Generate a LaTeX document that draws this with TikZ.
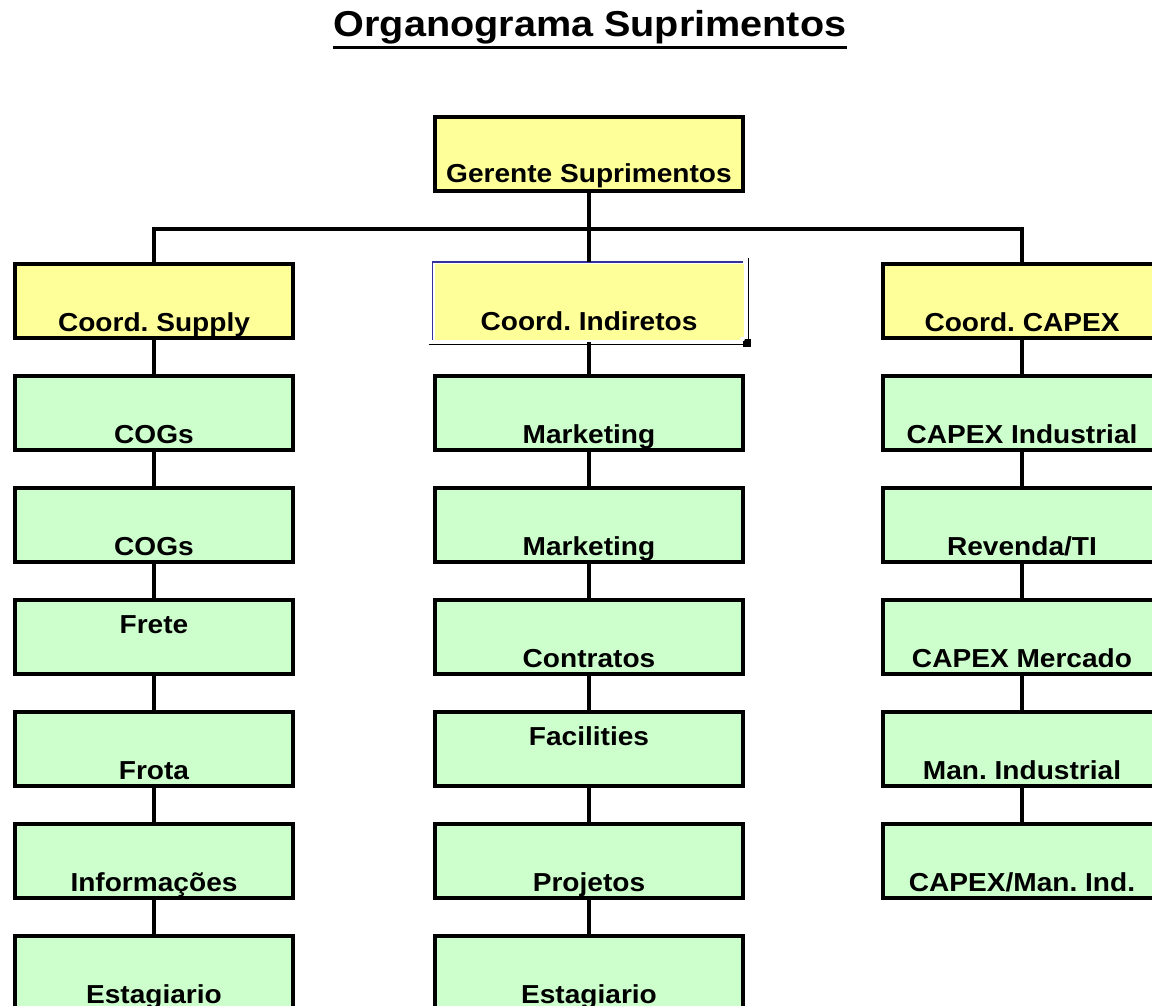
\documentclass[tikz,border=0pt]{standalone}
\usepackage{fontspec}
\setmainfont{Liberation Sans}
\newfontfamily\boxfont{Liberation Sans}[FakeStretch=1.08]
\newfontfamily\ttlfont{Liberation Sans}[FakeStretch=1.1]
\usepackage{tikz}
\usetikzlibrary{positioning}
\definecolor{coordYellow}{HTML}{FFFF99}
\definecolor{teamGreen}{HTML}{CCFFCC}
\definecolor{selBlue}{HTML}{333399}
\frenchspacing

\begin{document}
\begin{tikzpicture}[x=0.5pt, y=-0.5pt,
  box/.style={draw=black, line width=2pt, inner xsep=0pt, inner ysep=0pt, minimum width=139pt,
    text height=33.5pt, text depth=3.5pt, font=\boxfont\bfseries\fontsize{13}{15}\selectfont\frenchspacing},
  wide/.style={minimum width=154pt},
  toptext/.style={text height=16.5pt, text depth=20.5pt},
  coord/.style={box, fill=coordYellow},
  team/.style={box, fill=teamGreen},
  link/.style={draw=black, line width=1.6pt}]
  \useasboundingbox (0,0) rectangle (1152,1006);

  % title
  \node[font=\ttlfont\bfseries\fontsize{18}{22}\selectfont, inner xsep=0pt, anchor=base] (ttl) at (590,37) {Organograma Suprimentos};
  \draw[line width=1.5pt] ([yshift=-5.5pt]ttl.base west) -- ([yshift=-5.5pt]ttl.base east);

  % top level and coordinators
  \node[coord, wide, text depth=4pt, text height=33pt] (ger) at (589,154) {Gerente Suprimentos};
  \node[coord] (csup) at (154,301) {Coord. Supply};
  \node[coord, draw=none, minimum width=154.5pt, text height=33pt, text depth=5pt] (cind) at (589,302) {Coord. Indiretos};
  \node[coord] (ccap) at (1022,301) {Coord. CAPEX};

  % selection marks round Coord. Indiretos
  \draw[selBlue, line width=0.6pt] ([yshift=1pt]cind.south west) -- (cind.north west) -- ([xshift=-1.5pt]cind.north east);
  \draw[line width=0.7pt] ([xshift=1.5pt, yshift=2pt]cind.north east) -- ([xshift=1.5pt]cind.south east);
  \draw[line width=0.7pt] ([xshift=-2pt, yshift=-1.2pt]cind.south west) -- ([yshift=-1.2pt]cind.south east);
  \fill[black] ([xshift=-1.5pt, yshift=-2.5pt]cind.south east) rectangle ++(4pt,4pt);
  \fill[white] ([xshift=-1.5pt, yshift=1.5pt]cind.south east) circle (1.2pt);

  % Supply column
  \node[team] (sup1) at (154,413) {COGs};
  \node[team] (sup2) at (154,525) {COGs};
  \node[team, toptext] (sup3) at (154,637) {Frete};
  \node[team] (sup4) at (154,749) {Frota};
  \node[team] (sup5) at (154,861) {Informações};
  \node[team] (sup6) at (154,973) {Estagiario};

  % Indiretos column
  \node[team, wide] (ind1) at (589,413) {Marketing};
  \node[team, wide] (ind2) at (589,525) {Marketing};
  \node[team, wide] (ind3) at (589,637) {Contratos};
  \node[team, wide, toptext] (ind4) at (589,749) {Facilities};
  \node[team, wide] (ind5) at (589,861) {Projetos};
  \node[team, wide] (ind6) at (589,973) {Estagiario};

  % CAPEX column
  \node[team] (cap1) at (1022,413) {CAPEX Industrial};
  \node[team] (cap2) at (1022,525) {Revenda/TI};
  \node[team] (cap3) at (1022,637) {CAPEX Mercado};
  \node[team] (cap4) at (1022,749) {Man. Industrial};
  \node[team] (cap5) at (1022,861) {CAPEX/Man. Ind.};

  % connectors
  \coordinate (bus) at (589,229);
  \draw[link] (csup.north) |- (bus) -| (ccap.north);
  \draw[link] (ger.south) -- (cind.north);
  \draw[link] (csup) -- (sup1) -- (sup2) -- (sup3) -- (sup4) -- (sup5) -- (sup6);
  \draw[link] (cind) -- (ind1) -- (ind2) -- (ind3) -- (ind4) -- (ind5) -- (ind6);
  \draw[link] (ccap) -- (cap1) -- (cap2) -- (cap3) -- (cap4) -- (cap5);
\end{tikzpicture}
\end{document}
